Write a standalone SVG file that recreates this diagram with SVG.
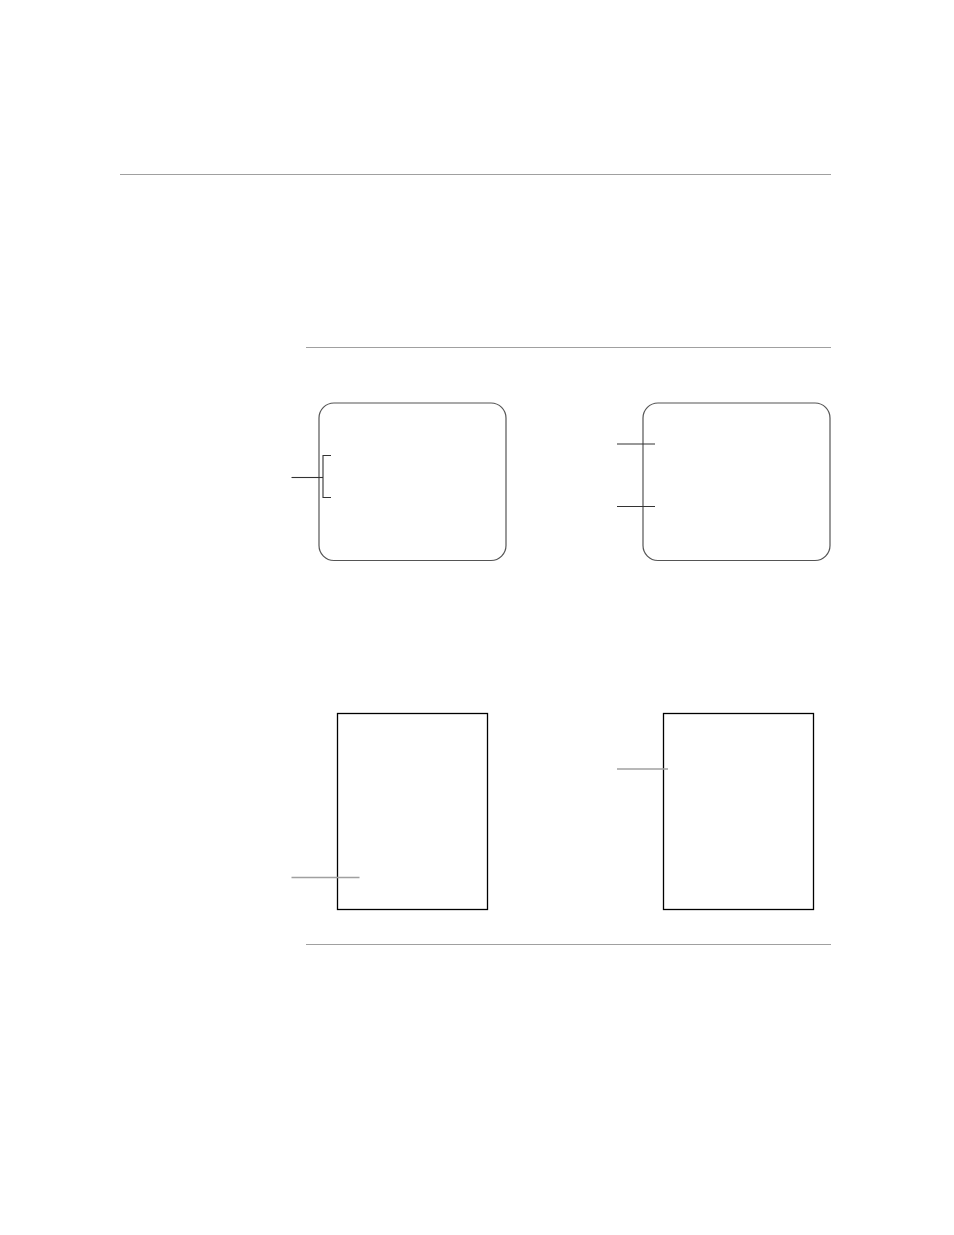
<svg xmlns="http://www.w3.org/2000/svg" width="954" height="1235" viewBox="0 0 954 1235">
<style>
.rule{stroke:#a0a0a0;stroke-width:1.2;fill:none}
.screen{fill:#fff;stroke:#555;stroke-width:1.2}
.page{fill:#fff;stroke:#000;stroke-width:1.3}
.lead{stroke:#333;stroke-width:1.1;fill:none}
.leadg{stroke:#a0a0a0;stroke-width:1.6;fill:none}
</style>
<rect width="954" height="1235" fill="#fff"/>
<g id="rules">
<line class="rule" x1="120" y1="174.5" x2="831" y2="174.5"/>
<line class="rule" x1="306" y1="347.5" x2="831" y2="347.5"/>
<line class="rule" x1="306" y1="944.5" x2="831" y2="944.5"/>
</g>
<g id="screen1"><rect class="screen" x="319" y="403" width="187" height="157.5" rx="15"/></g>
<g id="screen2"><rect class="screen" x="643" y="403" width="187" height="157.5" rx="15"/></g>
<g id="page1"><rect class="page" x="337.5" y="713.5" width="150" height="196"/></g>
<g id="page2"><rect class="page" x="663.5" y="713.5" width="150" height="196"/></g>
<g id="connectors">
<path class="lead" d="M331 455.5 H323 V497.5 H331" stroke="#555"/>
<line class="lead" x1="291.5" y1="477.5" x2="323" y2="477.5"/>
<line class="lead" x1="617" y1="444" x2="655" y2="444"/>
<line class="lead" x1="617" y1="506.5" x2="655" y2="506.5" stroke="#666"/>
<line class="leadg" x1="291.5" y1="877.5" x2="359.5" y2="877.5"/>
<line class="leadg" x1="617" y1="769" x2="668" y2="769"/>
</g>
</svg>
